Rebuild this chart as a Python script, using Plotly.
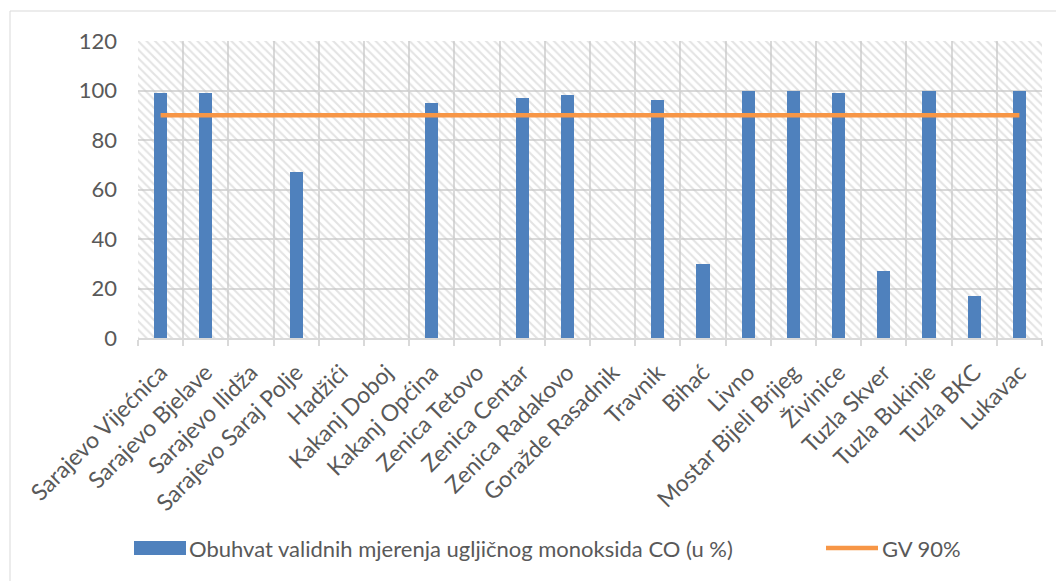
import plotly.graph_objects as go

# Monitoring stations and share of valid CO measurements (%)
stations = [
    "Sarajevo Vijećnica", "Sarajevo Bjelave", "Sarajevo Ilidža", "Sarajevo Saraj Polje",
    "Hadžići", "Kakanj Doboj", "Kakanj Općina", "Zenica Tetovo", "Zenica Centar",
    "Zenica Radakovo", "Goražde Rasadnik", "Travnik", "Bihać", "Livno",
    "Mostar Bijeli Brijeg", "Živinice", "Tuzla Skver", "Tuzla Bukinje", "Tuzla BKC", "Lukavac",
]
coverage = [99, 99, 0, 67, 0, 0, 95, 0, 97, 98, 0, 96, 30, 100, 100, 99, 27, 100, 17, 100]
limit_value = 90
y_ticks = [0, 20, 40, 60, 80, 100, 120]

series_name = "Obuhvat validnih mjerenja ugljičnog monoksida CO (u %)"
limit_name = "GV 90%"

W, H = 1056, 581
ML, MR, MT, MB = 138, 14, 41, 243
PW, PH = W - ML - MR, H - MT - MB

BLUE = "#4F81BD"
ORANGE = "#F79646"
GRID = "#D9D9D9"
TEXT = "#595959"
FONT = "Lato"

fig = go.Figure()

# hatched plot-area background
fig.add_trace(go.Bar(
    x=stations, y=[y_ticks[-1]] * len(stations), width=1.0,
    marker=dict(color="rgba(0,0,0,0)", line=dict(width=0),
                pattern=dict(shape="\\", fgcolor="#C8C8C8", bgcolor="rgba(0,0,0,0)",
                             size=6, solidity=0.35)),
    hoverinfo="skip", showlegend=False,
))

fig.add_trace(go.Bar(
    x=stations, y=coverage, width=0.29, name=series_name,
    marker=dict(color=BLUE, line=dict(width=0)), showlegend=False,
))

fig.add_trace(go.Scatter(
    x=stations, y=[limit_value] * len(stations), mode="lines", name=limit_name,
    line=dict(color=ORANGE, width=4.5), showlegend=False,
))

def px_x(v):
    return (v - ML) / PW

def px_y(v):
    return (H - MB - v) / PH

shapes = [
    # chart border
    dict(type="rect", xref="paper", yref="paper",
         x0=px_x(10), x1=px_x(1070), y0=px_y(11), y1=px_y(600),
         line=dict(color=GRID, width=1), fillcolor="rgba(0,0,0,0)", layer="below"),
    # legend keys
    dict(type="rect", xref="paper", yref="paper",
         x0=px_x(134), x1=px_x(186), y0=px_y(541), y1=px_y(555),
         line=dict(width=0), fillcolor=BLUE),
    dict(type="line", xref="paper", yref="paper",
         x0=px_x(826), x1=px_x(878), y0=px_y(548), y1=px_y(548),
         line=dict(color=ORANGE, width=4.5)),
]

annotations = [
    dict(text=series_name, xref="paper", yref="paper", x=px_x(187), y=px_y(548),
         xanchor="left", yanchor="middle", showarrow=False,
         font=dict(family=FONT, size=22, color=TEXT)),
    dict(text=limit_name, xref="paper", yref="paper", x=px_x(880), y=px_y(548),
         xanchor="left", yanchor="middle", showarrow=False,
         font=dict(family=FONT, size=22, color=TEXT)),
]

fig.update_layout(
    width=W, height=H,
    margin=dict(l=ML, r=MR, t=MT, b=MB, pad=0),
    paper_bgcolor="white", plot_bgcolor="white",
    barmode="overlay", bargap=0,
    font=dict(family=FONT, size=22, color=TEXT),
    shapes=shapes, annotations=annotations,
    showlegend=False,
    xaxis=dict(
        type="category", tickson="boundaries", tickangle=-45,
        showgrid=True, gridcolor=GRID, gridwidth=1.5,
        showline=True, linecolor=GRID, linewidth=2,
        ticks="outside", ticklen=6, tickcolor=GRID, tickwidth=1.5,
        ticklabelstandoff=10,
        tickfont=dict(family=FONT, size=23, color=TEXT),
        range=[-0.5, len(stations) - 0.5],
    ),
    yaxis=dict(
        range=[0, y_ticks[-1]], tickvals=y_ticks,
        showgrid=True, gridcolor=GRID, gridwidth=1.5,
        zeroline=False, showline=False,
        ticks="", ticklabelstandoff=20,
        tickfont=dict(family=FONT, size=22, color=TEXT),
    ),
)

fig.write_html("out.html")
